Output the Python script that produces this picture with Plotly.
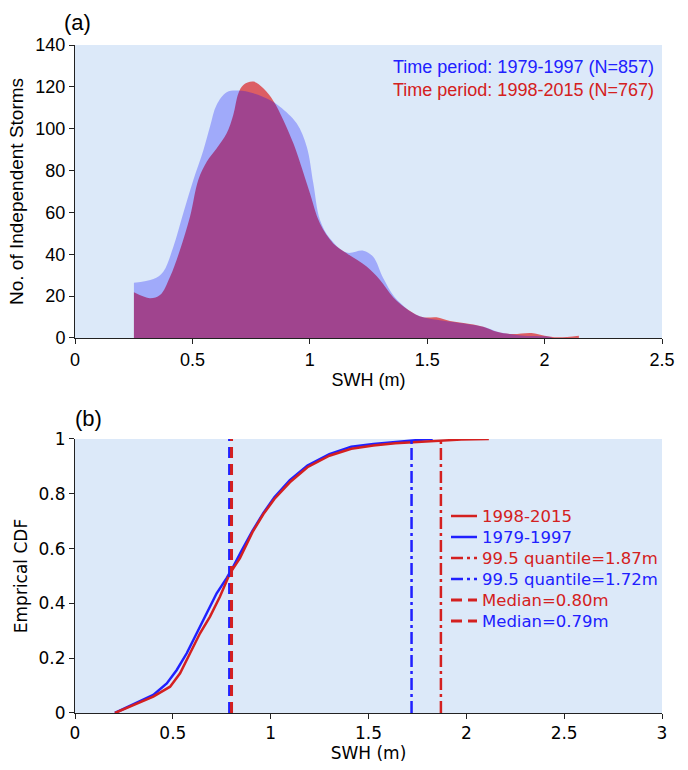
import plotly.graph_objects as go

# ---- panel (a): smoothed storm-count distributions of SWH ----
swh_blue = [0.251, 0.334, 0.376, 0.419, 0.461, 0.504, 0.547, 0.575, 0.603, 0.646, 0.696,
            0.760, 0.830, 0.873, 0.944, 0.987, 1.015, 1.043, 1.086, 1.157, 1.228, 1.270,
            1.313, 1.360, 1.413, 1.441, 1.483, 1.540, 1.600, 1.700, 1.750, 1.800, 1.900,
            2.000, 2.030]
cnt_blue = [26.4, 28.2, 31.7, 43.6, 59.6, 75.5, 89.8, 101.0, 111.3, 117.4, 118.2,
            116.9, 113.7, 110.5, 102.6, 91.4, 73.9, 56.5, 47.5, 40.8, 41.7, 38.8,
            28.5, 19.7, 14.0, 11.8, 9.9, 8.7, 7.8, 6.2, 5.0, 3.0, 1.2,
            0.8, 0.4]

swh_red = [0.251, 0.319, 0.362, 0.405, 0.447, 0.490, 0.525, 0.561, 0.603, 0.646, 0.674,
           0.696, 0.717, 0.760, 0.802, 0.845, 0.887, 0.930, 0.958, 1.001, 1.043, 1.100,
           1.157, 1.242, 1.299, 1.356, 1.420, 1.483, 1.540, 1.597, 1.682, 1.739, 1.796,
           1.860, 1.944, 2.000, 2.057, 2.146]
cnt_red = [21.8, 19.0, 20.5, 29.3, 42.0, 58.0, 75.5, 84.2, 90.6, 97.8, 106.5,
           116.9, 120.9, 122.5, 119.3, 113.3, 104.2, 93.0, 84.0, 69.1, 54.8, 45.2,
           40.5, 34.1, 27.7, 19.4, 13.4, 9.9, 9.9, 8.1, 6.7, 5.4, 3.0,
           1.9, 2.4, 1.1, 0.3, 1.1]

# ---- panel (b): empirical CDFs ----
cdf_x_red = [0.204, 0.298, 0.400, 0.486, 0.537, 0.588, 0.639, 0.690, 0.741, 0.792, 0.843,
             0.907, 0.963, 1.019, 1.098, 1.188, 1.300, 1.412, 1.525, 1.637, 1.749, 1.862,
             1.974, 2.115]
cdf_y_red = [0.0, 0.029, 0.060, 0.096, 0.145, 0.218, 0.291, 0.352, 0.425, 0.510, 0.565,
             0.660, 0.726, 0.781, 0.842, 0.897, 0.939, 0.964, 0.976, 0.984, 0.989, 0.994,
             0.998, 1.0]
cdf_x_blue = [0.204, 0.298, 0.400, 0.469, 0.520, 0.571, 0.622, 0.673, 0.724, 0.775, 0.809,
              0.851, 0.907, 0.963, 1.019, 1.098, 1.188, 1.300, 1.412, 1.525, 1.637, 1.749,
              1.828]
cdf_y_blue = [0.0, 0.033, 0.066, 0.108, 0.157, 0.218, 0.291, 0.364, 0.437, 0.492, 0.534,
              0.592, 0.665, 0.730, 0.787, 0.850, 0.903, 0.945, 0.972, 0.982, 0.990, 0.996,
              1.0]

q995_red, q995_blue = 1.87, 1.72
median_red, median_blue = 0.80, 0.79

RED = "#d42020"
BLUE = "#2020ff"
BG = "#dce9f9"
FONT_A = "Liberation Sans, Arial, sans-serif"
FONT_B = "DejaVu Sans, Verdana, sans-serif"
DASH_MED = "11px,6px"
DASH_Q = "12px,4px,3px,4px"

fig = go.Figure()

# density fills: red first, semi-transparent blue on top
fig.add_trace(go.Scatter(x=swh_red, y=cnt_red, mode="lines", fill="tozeroy",
                         line=dict(width=0, shape="spline", smoothing=1.0),
                         fillcolor="rgba(220,20,20,0.65)", showlegend=False,
                         xaxis="x", yaxis="y"))
fig.add_trace(go.Scatter(x=swh_blue, y=cnt_blue, mode="lines", fill="tozeroy",
                         line=dict(width=0, shape="spline", smoothing=1.0),
                         fillcolor="rgba(0,0,255,0.27)", showlegend=False,
                         xaxis="x", yaxis="y"))

# CDF curves
fig.add_trace(go.Scatter(x=cdf_x_blue, y=cdf_y_blue, mode="lines",
                         line=dict(color=BLUE, width=2.5), showlegend=False,
                         xaxis="x2", yaxis="y2"))
fig.add_trace(go.Scatter(x=cdf_x_red, y=cdf_y_red, mode="lines",
                         line=dict(color=RED, width=2.5), showlegend=False,
                         xaxis="x2", yaxis="y2"))

# vertical reference lines: 99.5% quantiles and medians
for xv, col, dash, w in [(q995_blue, BLUE, DASH_Q, 2.5), (q995_red, RED, DASH_Q, 2.5),
                         (median_blue, BLUE, DASH_MED, 3), (median_red, RED, DASH_MED, 3)]:
    fig.add_trace(go.Scatter(x=[xv, xv], y=[0, 1], mode="lines",
                             line=dict(color=col, width=w, dash=dash), showlegend=False,
                             xaxis="x2", yaxis="y2"))

# ---- key for panel (b): sample line + coloured label per row ----
key_rows = [
    ("1998-2015", RED, RED, "solid", 2.5),
    ("1979-1997", BLUE, BLUE, "solid", 2.5),
    (f"99.5 quantile={q995_red:.2f}m", RED, RED, DASH_Q, 2.5),
    (f"99.5 quantile={q995_blue:.2f}m", BLUE, BLUE, DASH_Q, 2.5),
    (f"Median={median_red:.2f}m", RED, RED, DASH_MED, 3),
    (f"Median={median_blue:.2f}m", RED, BLUE, DASH_MED, 3),
]
PLOT_L, PLOT_W, PLOT_T, PLOT_B = 75, 587, 45, 713
PLOT_H = PLOT_B - PLOT_T


def px_to_paper(px, py):
    return (px - PLOT_L) / PLOT_W, (PLOT_B - py) / PLOT_H


shapes = []
annotations = []
for i, (label, line_col, text_col, dash, w) in enumerate(key_rows):
    py = 516 + 21 * i
    x0, y0 = px_to_paper(451, py)
    x1, _ = px_to_paper(477, py)
    shapes.append(dict(type="line", xref="paper", yref="paper", x0=x0, x1=x1, y0=y0, y1=y0,
                       line=dict(color=line_col, width=w, dash=dash)))
    tx, _ = px_to_paper(480, py)
    annotations.append(dict(text=label, x=tx, y=y0, xref="paper", yref="paper",
                            xanchor="left", yanchor="middle", showarrow=False,
                            font=dict(family=FONT_B, size=16.5, color=text_col)))

annotations += [
    dict(text="(a)", x=-0.022, y=1.034, xref="paper", yref="paper", xanchor="left",
         yanchor="middle", showarrow=False, font=dict(family=FONT_A, size=22, color="black")),
    dict(text="(b)", x=-0.004, y=0.441, xref="paper", yref="paper", xanchor="left",
         yanchor="middle", showarrow=False, font=dict(family=FONT_A, size=22, color="black")),
    dict(text="Time period: 1979-1997 (N=857)", x=0.99, y=0.967, xref="paper", yref="paper",
         xanchor="right", yanchor="middle", showarrow=False,
         font=dict(family=FONT_A, size=18, color=BLUE)),
    dict(text="Time period: 1998-2015 (N=767)", x=0.99, y=0.933, xref="paper", yref="paper",
         xanchor="right", yanchor="middle", showarrow=False,
         font=dict(family=FONT_A, size=18, color=RED)),
]

axis_common = dict(showline=True, linecolor="#222", linewidth=1, ticks="outside",
                   ticklen=5, tickcolor="#222", showgrid=False, zeroline=False,
                   mirror=False)

fig.update_layout(
    width=688, height=770,
    margin=dict(l=PLOT_L, r=688 - PLOT_L - PLOT_W, t=PLOT_T, b=770 - PLOT_B),
    paper_bgcolor="white", plot_bgcolor=BG,
    xaxis=dict(domain=[0, 1], anchor="y", range=[0, 2.5],
               tickvals=[0, 0.5, 1, 1.5, 2, 2.5], ticktext=["0", "0.5", "1", "1.5", "2", "2.5"],
               tickfont=dict(family=FONT_A, size=18, color="black"),
               title=dict(text="SWH (m)", font=dict(family=FONT_A, size=18, color="black"),
                          standoff=4),
               **axis_common),
    yaxis=dict(domain=[0.5614, 1], anchor="x", range=[0, 140], dtick=20,
               tickfont=dict(family=FONT_A, size=18, color="black"),
               title=dict(text="No. of Independent Storms",
                          font=dict(family=FONT_A, size=19, color="black"), standoff=6),
               **axis_common),
    xaxis2=dict(domain=[0, 1], anchor="y2", range=[0, 3],
                tickvals=[0, 0.5, 1, 1.5, 2, 2.5, 3], ticktext=["0", "0.5", "1", "1.5", "2", "2.5", "3"],
                tickfont=dict(family=FONT_B, size=17, color="black"),
                title=dict(text="SWH (m)", font=dict(family=FONT_B, size=17, color="black"),
                           standoff=2),
                **axis_common),
    yaxis2=dict(domain=[0, 0.4102], anchor="x2", range=[0, 1],
                tickvals=[0, 0.2, 0.4, 0.6, 0.8, 1], ticktext=["0", "0.2", "0.4", "0.6", "0.8", "1"],
                tickfont=dict(family=FONT_B, size=17, color="black"),
                title=dict(text="Emprical CDF", font=dict(family=FONT_B, size=17, color="black"),
                           standoff=6),
                **axis_common),
    showlegend=False,
    shapes=shapes,
    annotations=annotations,
)

fig.write_html("out.html")
